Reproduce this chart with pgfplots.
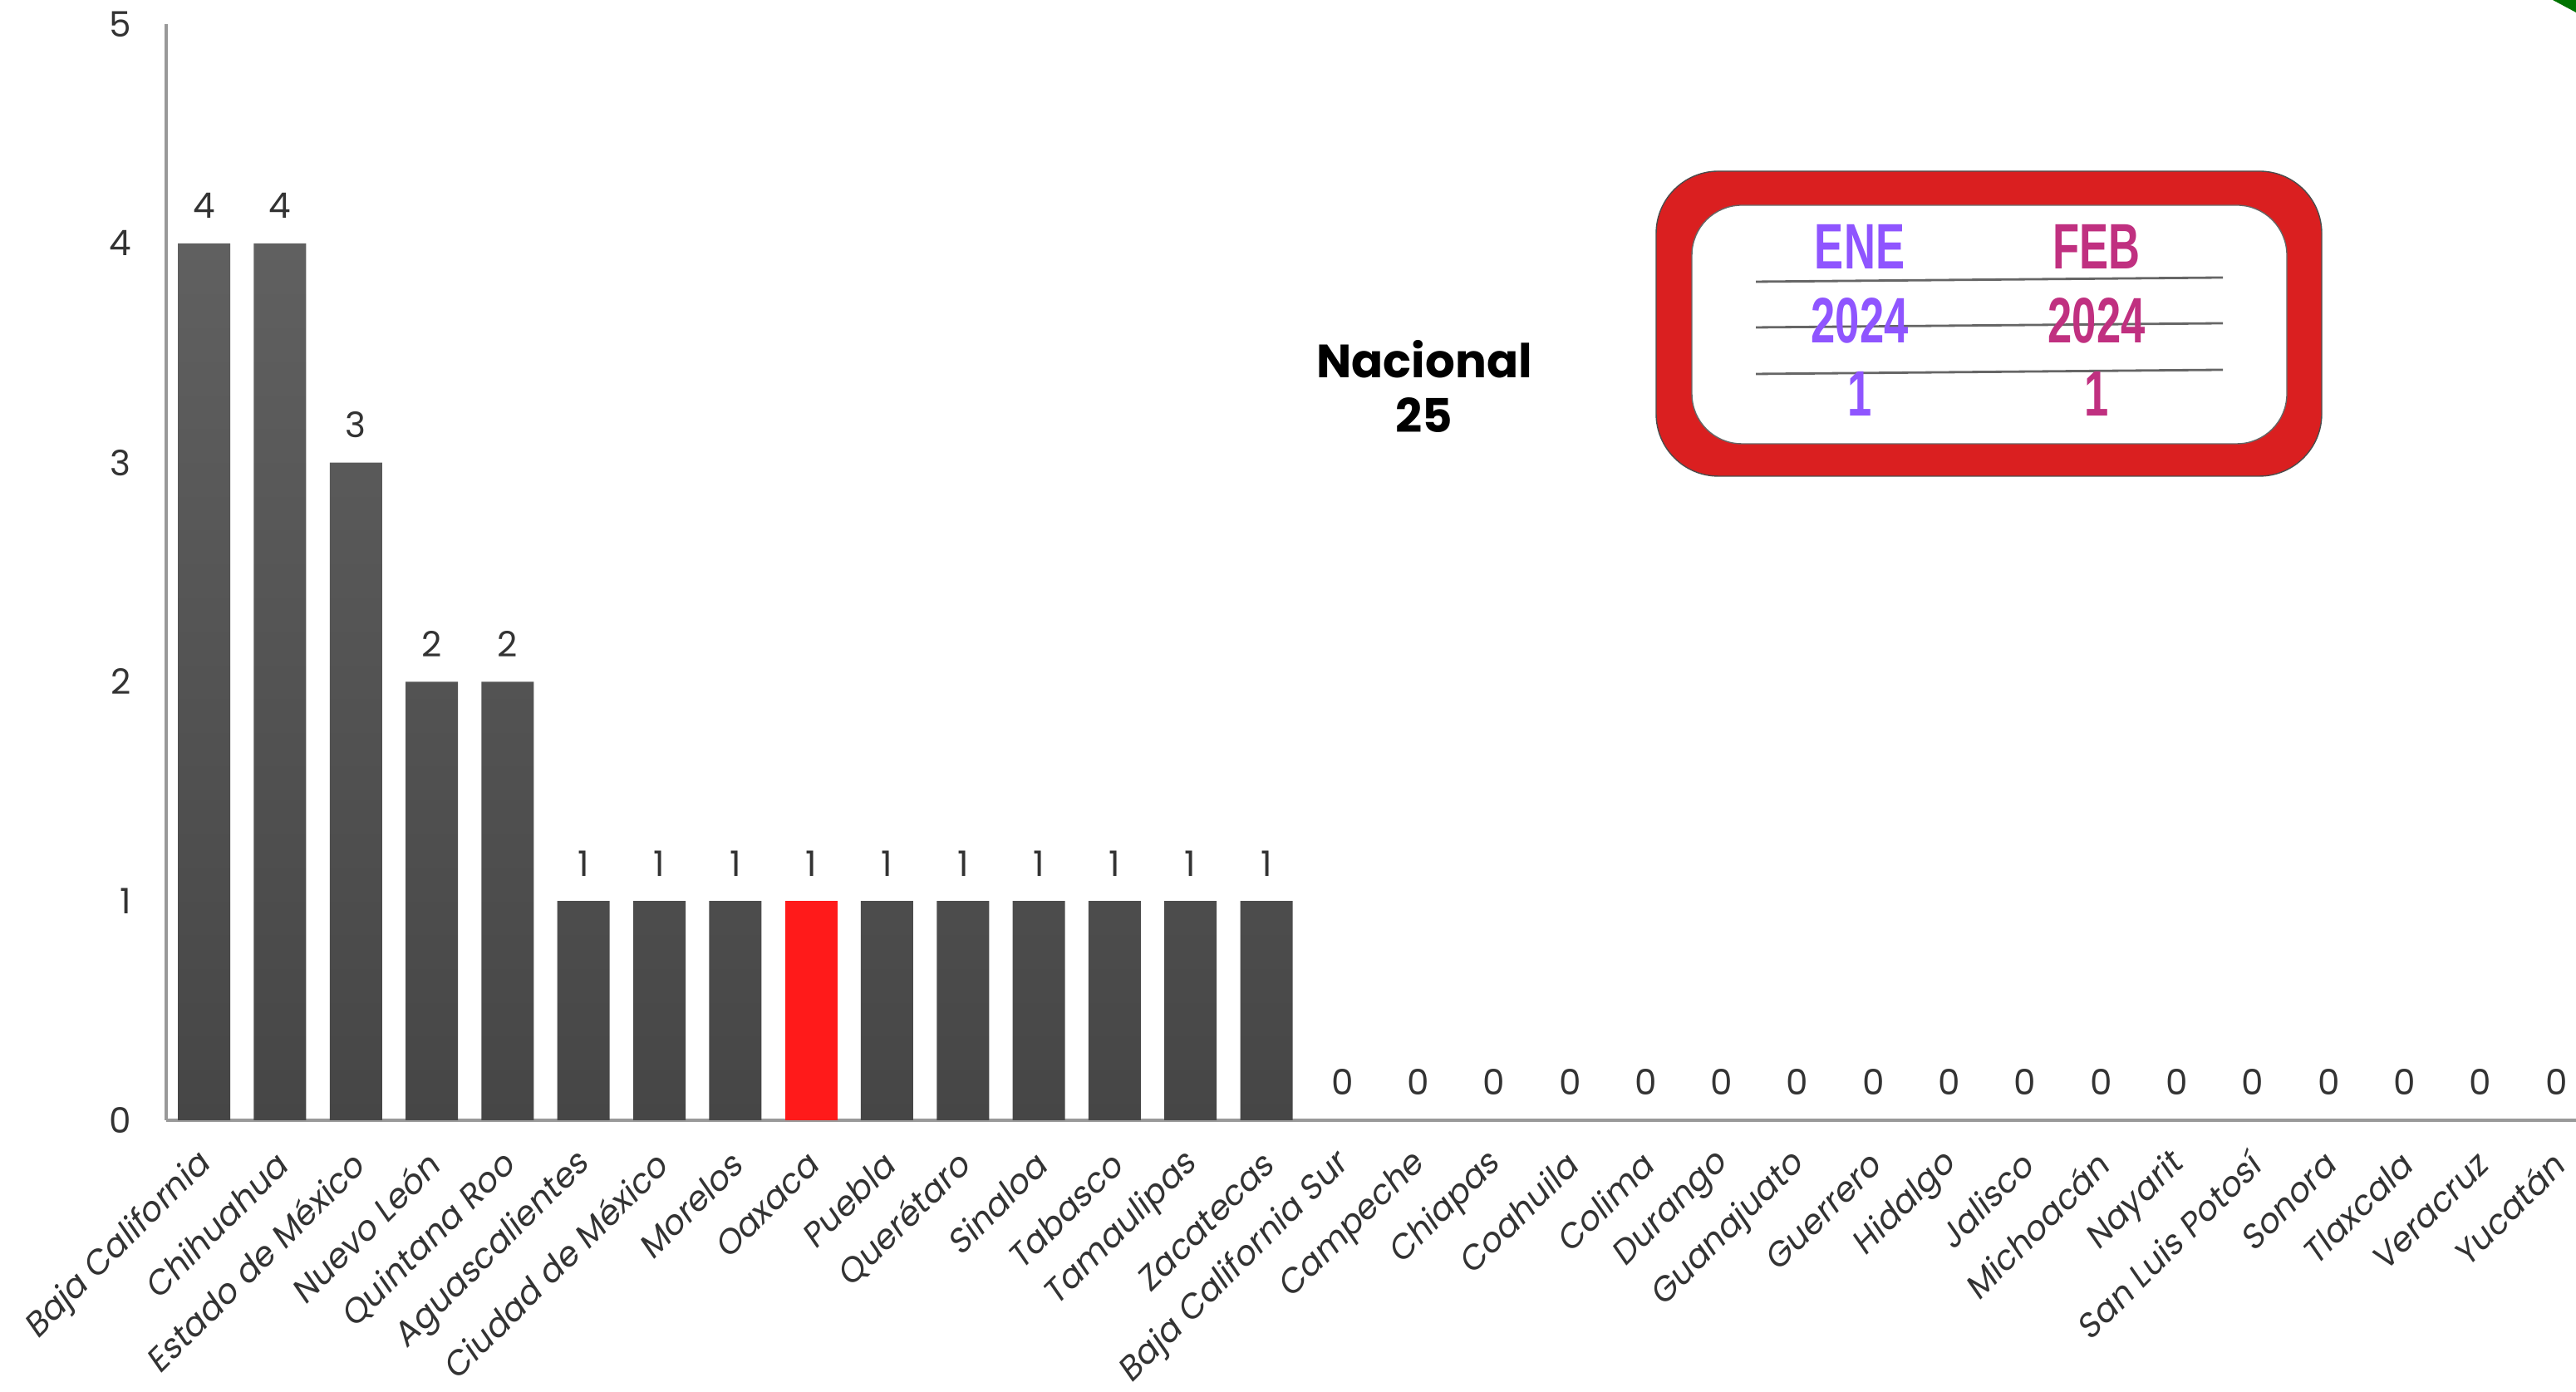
\documentclass[border=0pt]{standalone}
\usepackage{fontspec}
\usepackage{pgfplots}
\pgfplotsset{compat=1.18}
\setmainfont{Poppins}
\newfontfamily\lblfont[FakeSlant=0.18]{Poppins}
\newfontfamily\boxfont[FakeStretch=0.68]{Liberation Sans}

\definecolor{barTop}{HTML}{606060}
\definecolor{barBot}{HTML}{464646}
\definecolor{hiRed}{HTML}{FF1A1A}
\definecolor{boxRed}{HTML}{DA1F20}
\definecolor{ene}{HTML}{8F55FF}
\definecolor{feb}{HTML}{C03080}
\definecolor{txt}{HTML}{333333}

% casos por entidad
\pgfplotstableread{
x y
0 4
1 4
2 3
3 2
4 2
5 1
6 1
7 1
8 1
9 1
10 1
11 1
12 1
13 1
14 1
15 0
16 0
17 0
18 0
19 0
20 0
21 0
22 0
23 0
24 0
25 0
26 0
27 0
28 0
29 0
30 0
31 0
}\casos

\begin{document}
\begin{tikzpicture}
\begin{axis}[
    at={(2.0cm,3.27cm)}, anchor=south west,
    scale only axis, width=29.22cm, height=13.19cm,
    xmin=-0.5, xmax=31.5, ymin=0, ymax=5,
    axis x line*=bottom, axis y line*=left,
    axis line style={draw=black!40, line width=0.9pt},
    xtick={0,...,31},
    xticklabels={Baja California, Chihuahua, Estado de México, Nuevo León,
        Quintana Roo, Aguascalientes, Ciudad de México, Morelos, Oaxaca,
        Puebla, Querétaro, Sinaloa, Tabasco, Tamaulipas, Zacatecas,
        Baja California Sur, Campeche, Chiapas, Coahuila, Colima, Durango,
        Guanajuato, Guerrero, Hidalgo, Jalisco, Michoacán, Nayarit,
        San Luis Potosí, Sonora, Tlaxcala, Veracruz, Yucatán},
    ytick={0,...,5},
    major tick length=0pt,
    tick label style={text=txt, font=\fontsize{12}{14}\selectfont},
    xticklabel style={font=\lblfont\fontsize{11.5}{13}\selectfont,
        xshift=0.2mm, yshift=-4.7mm, rotate=45, anchor=east, inner sep=0pt},
    yticklabel style={xshift=-3mm},
    /pgf/number format/assume math mode=true,
    clip=false,
]
    % barras grises
    \addplot[ybar, bar width=0.63cm, bar shift=0pt, draw=none,
        top color=barTop, bottom color=barBot] coordinates {
        (0,4) (1,4) (2,3) (3,2) (4,2) (5,1) (6,1) (7,1)
        (9,1) (10,1) (11,1) (12,1) (13,1) (14,1)
    };
    % Oaxaca
    \addplot[ybar, bar width=0.63cm, bar shift=0pt, draw=none,
        fill=hiRed] coordinates {(8,1)};
    % etiquetas
    \addplot[draw=none, mark=none, nodes near coords,
        every node near coord/.append style={anchor=base, yshift=3mm,
            text=txt, font=\fontsize{12}{14}\selectfont}]
        table[x=x, y=y] {\casos};
\end{axis}

\node[font=\bfseries\fontsize{16}{18.5}\selectfont, align=center]
    at (17.14,12.1) {Nacional\\25};

\fill[boxRed, draw=black!70, line width=0.4pt, rounded corners=0.75cm]
    (19.93,11.02) rectangle (27.94,14.69);
\fill[white, draw=black!60, line width=0.4pt, rounded corners=0.6cm]
    (20.36,11.41) rectangle (27.52,14.28);
\draw[black!60, line width=0.8pt] (21.13,13.36) -- (26.75,13.41);
\draw[black!60, line width=0.8pt] (21.13,12.81) -- (26.75,12.86);
\draw[black!60, line width=0.8pt] (21.13,12.25) -- (26.75,12.30);
\begin{scope}[every node/.style={font=\boxfont\bfseries\fontsize{22}{24}\selectfont}]
\node[text=ene] at (22.38,13.78) {ENE};
\node[text=feb] at (25.23,13.78) {FEB};
\node[text=ene] at (22.38,12.89) {2024};
\node[text=feb] at (25.23,12.89) {2024};
\node[text=ene] at (22.38,12.01) {1};
\node[text=feb] at (25.23,12.01) {1};
\end{scope}

\fill[green!45!black] (30.72,16.75) -- (31,16.75) -- (31,16.6) -- cycle;

\pgfresetboundingbox
\useasboundingbox (0,0) rectangle (31,16.75);
\end{tikzpicture}
\end{document}
